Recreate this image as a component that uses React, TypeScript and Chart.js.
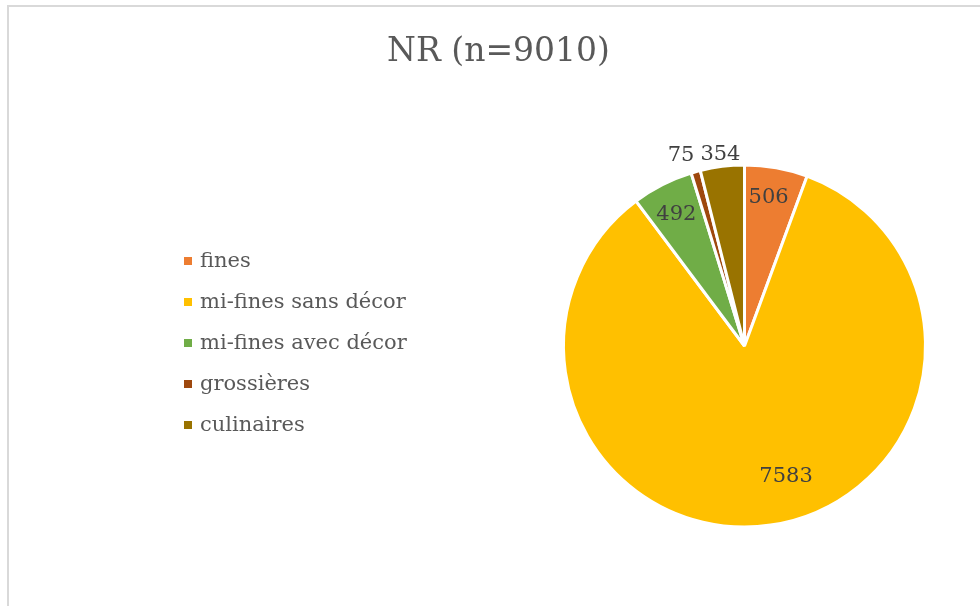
import React, { useEffect, useRef } from 'react';
import { Chart, registerables } from 'chart.js';

Chart.register(...registerables);

const TITLE = 'NR (n=9010)';
const CATEGORIES = ['fines', 'mi-fines sans décor', 'mi-fines avec décor', 'grossières', 'culinaires'];
const VALUES = [506, 7583, 492, 75, 354];
const COLORS = ['#ED7D31', '#FFC000', '#70AD47', '#9E480E', '#997300'];

// label placement relative to each slice (radius factor, angular shift in degrees)
const LABEL_PLACEMENT = [
  { r: 0.84, a: -1 },
  { r: 0.744, a: -9.7 },
  { r: 0.83, a: 0 },
  { r: 1.12, a: -2.6 },
  { r: 1.08, a: 0 },
];

const FONT = '"DejaVu Serif", "Liberation Serif", serif';

const decorPlugin = {
  id: 'decor',
  afterDatasetsDraw(chart: any, _args: any, opts: any) {
    const ctx = chart.ctx as CanvasRenderingContext2D;
    ctx.save();

    // title
    ctx.font = `${opts.titleSize}px ${FONT}`;
    ctx.fillStyle = opts.titleColor;
    ctx.textAlign = 'center';
    ctx.textBaseline = 'alphabetic';
    ctx.fillText(opts.title, opts.titleX, opts.titleBaseline);

    // legend
    const labels: string[] = chart.data.labels;
    const bg: string[] = chart.data.datasets[0].backgroundColor;
    ctx.textAlign = 'left';
    ctx.font = `${opts.legendSize}px ${FONT}`;
    labels.forEach((l, i) => {
      const cy = opts.legendTop + i * opts.legendGap;
      ctx.fillStyle = bg[i];
      ctx.fillRect(opts.legendX, cy - opts.boxSize / 2, opts.boxSize, opts.boxSize);
      ctx.fillStyle = opts.legendColor;
      ctx.fillText(l, opts.legendX + opts.textGap, cy + 0.29 * opts.legendSize);
    });

    // data labels
    const meta = chart.getDatasetMeta(0);
    const data: number[] = chart.data.datasets[0].data;
    ctx.font = `${opts.valueSize}px ${FONT}`;
    ctx.textAlign = 'center';
    ctx.fillStyle = opts.valueColor;
    meta.data.forEach((arc: any, i: number) => {
      const p = arc.getProps(['x', 'y', 'startAngle', 'endAngle', 'outerRadius'], true);
      const pl = opts.placement[i];
      const ang = (p.startAngle + p.endAngle) / 2 + (pl.a * Math.PI) / 180;
      const r = p.outerRadius * pl.r;
      const x = p.x + Math.cos(ang) * r;
      const y = p.y + Math.sin(ang) * r;
      ctx.fillText(String(data[i]), x, y + 0.36 * opts.valueSize);
    });

    ctx.restore();
  },
};

export default function App() {
  const ref = useRef<HTMLCanvasElement | null>(null);

  useEffect(() => {
    if (!ref.current) return;
    const chart = new Chart(ref.current, {
      type: 'pie',
      data: {
        labels: CATEGORIES,
        datasets: [
          {
            data: VALUES,
            backgroundColor: COLORS,
            borderColor: '#ffffff',
            borderWidth: 3,
            hoverOffset: 0,
          },
        ],
      },
      options: {
        responsive: false,
        animation: false,
        devicePixelRatio: 1,
        layout: { padding: { left: 562, right: 53, top: 163.5, bottom: 77.5 } },
        plugins: {
          legend: { display: false },
          tooltip: { enabled: false },
          title: { display: false },
          decor: {
            title: TITLE,
            titleSize: 33,
            titleColor: '#595959',
            titleX: 498.5,
            titleBaseline: 61,
            legendX: 184,
            legendTop: 261,
            legendGap: 41,
            boxSize: 8,
            textGap: 16,
            legendSize: 21,
            legendColor: '#595959',
            valueSize: 21,
            valueColor: '#404040',
            placement: LABEL_PLACEMENT,
          },
        } as any,
      },
      plugins: [decorPlugin],
    });
    return () => chart.destroy();
  }, []);

  return (
    <div style={{ position: 'absolute', left: 0, top: 0, width: 980, height: 606, overflow: 'hidden', background: '#fff' }}>
      <div
        style={{
          position: 'absolute',
          left: 7,
          top: 5,
          width: 1000,
          height: 640,
          borderTop: '2px solid #d9d9d9',
          borderLeft: '2px solid #d9d9d9',
        }}
      />
      <canvas ref={ref} width={980} height={606} style={{ position: 'absolute', left: 0, top: 0 }} />
    </div>
  );
}
